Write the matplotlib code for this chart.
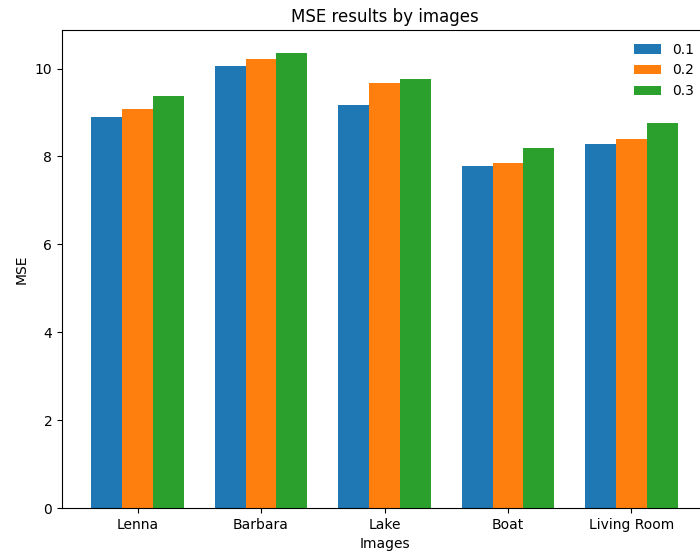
import numpy as np
import matplotlib
matplotlib.use("Agg")
import matplotlib.pyplot as plt

# data
images = ["Lenna", "Barbara", "Lake", "Boat", "Living Room"]
mse_01 = [8.90, 10.06, 9.16, 7.78, 8.28]
mse_02 = [9.09, 10.21, 9.67, 7.86, 8.40]
mse_03 = [9.38, 10.36, 9.76, 8.19, 8.76]
series_labels = ["0.1", "0.2", "0.3"]

x = np.arange(len(images))
width = 0.25

fig = plt.figure(figsize=(7, 5.54), dpi=100)
# axes extend a bit past the right edge, as in the cropped reference
ax = fig.add_axes([62 / 700, 46 / 554, 645 / 700, 478 / 554])

ax.bar(x - width, mse_01, width, label=series_labels[0], color="#1f77b4")
ax.bar(x, mse_02, width, label=series_labels[1], color="#ff7f0e")
ax.bar(x + width, mse_03, width, label=series_labels[2], color="#2ca02c")

ax.set_title("MSE results by images")
ax.set_xlabel("Images")
ax.set_ylabel("MSE")
ax.set_xticks(x)
ax.set_xticklabels(images)
ax.legend(loc="upper right", frameon=False)

fig.savefig("out.png", dpi=100)
